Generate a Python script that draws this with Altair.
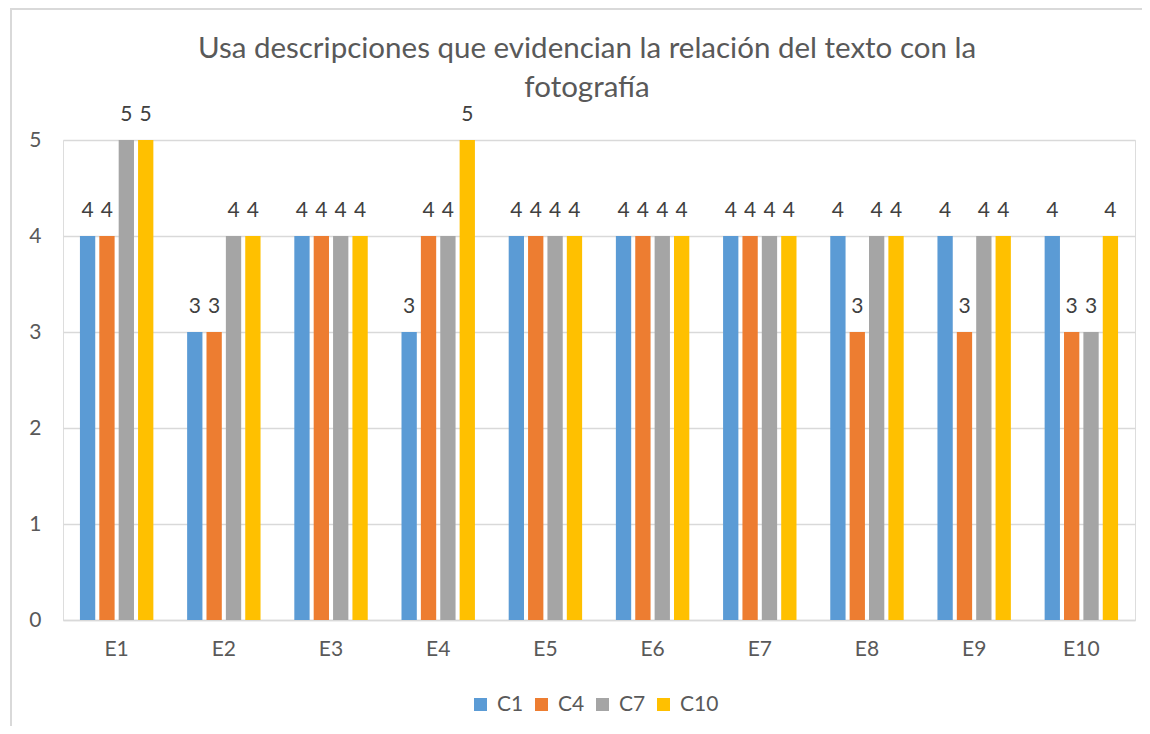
import altair as alt
import pandas as pd

students = ["E1", "E2", "E3", "E4", "E5", "E6", "E7", "E8", "E9", "E10"]
series = ["C1", "C4", "C7", "C10"]
c1 = [4, 3, 4, 3, 4, 4, 4, 4, 4, 4]
c4 = [4, 3, 4, 4, 4, 4, 4, 3, 3, 3]
c7 = [5, 4, 4, 4, 4, 4, 4, 4, 4, 3]
c10 = [5, 4, 4, 5, 4, 4, 4, 4, 4, 4]
colors = ["#5B9BD5", "#ED7D31", "#A5A5A5", "#FFC000"]
title_lines = ["Usa descripciones que evidencian la relación del texto con la", "fotografía"]

rows = []
for s, vals in zip(series, [c1, c4, c7, c10]):
    for e, v in zip(students, vals):
        rows.append({"E": e, "serie": s, "valor": v})
df = pd.DataFrame(rows)

FONT = "Lato"
W, H = 1072, 480

x = alt.X("E:N", sort=students, title=None,
          scale=alt.Scale(paddingInner=0.315, paddingOuter=0.158),
          axis=alt.Axis(labelAngle=0, labelFontSize=21, labelColor="#595959", labelFont=FONT,
                        labelPadding=18, ticks=False, domain=True, domainColor="#D9D9D9",
                        domainWidth=1.5, grid=False))
xo = alt.XOffset("serie:N", sort=series, scale=alt.Scale(paddingInner=0.21))
y = alt.Y("valor:Q", title=None, scale=alt.Scale(domain=[0, 5], nice=False),
          axis=alt.Axis(values=[0, 1, 2, 3, 4, 5], labelFontSize=21, labelColor="#595959",
                        labelFont=FONT, labelPadding=22, ticks=False, domain=False,
                        grid=True, gridColor="#D9D9D9", gridWidth=1.5))
color = alt.Color("serie:N", sort=series, scale=alt.Scale(domain=series, range=colors),
                  legend=alt.Legend(orient="none", legendX=407, legendY=554, title=None,
                                    symbolType="square", symbolSize=169, symbolStrokeWidth=0,
                                    labelFontSize=21, labelColor="#595959", labelFont=FONT,
                                    columnPadding=7, labelOffset=6, gridAlign="none",
                                    direction="horizontal"))

base = alt.Chart(df)
bars = base.mark_bar().encode(x=x, xOffset=xo, y=y, color=color)
labels = base.mark_text(dy=-15, baseline="bottom", fontSize=21, font=FONT, color="#404040").encode(
    x=x, xOffset=xo, y=y, text="valor:Q")

one = pd.DataFrame({"a": [0]})
left_line = alt.Chart(one).mark_rule(stroke="#D9D9D9", strokeWidth=2, clip=False).encode(
    x=alt.value(-52), y=alt.value(-132), y2=alt.value(586))
top_line = alt.Chart(one).mark_rule(stroke="#D9D9D9", strokeWidth=2, clip=False).encode(
    x=alt.value(-53), x2=alt.value(1079), y=alt.value(-131))

t1 = alt.Chart(one).mark_text(text=title_lines[0], fontSize=29.5, font=FONT, color="#595959",
                              baseline="alphabetic", align="center").encode(
    x=alt.value(524), y=alt.value(-82))
t2 = alt.Chart(one).mark_text(text=title_lines[1], fontSize=29.5, font=FONT, color="#595959",
                              baseline="alphabetic", align="center").encode(
    x=alt.value(524), y=alt.value(-43))

chart = alt.layer(left_line, top_line, bars, labels, t1, t2).properties(
    width=W, height=H,
    autosize=alt.AutoSizeParams(type="none"),
    padding={"left": 55, "top": 132, "right": 7, "bottom": 106},
).configure_view(stroke=None).configure(background="white")

chart.save("out.html", embed_options={"renderer": "svg", "actions": False})
